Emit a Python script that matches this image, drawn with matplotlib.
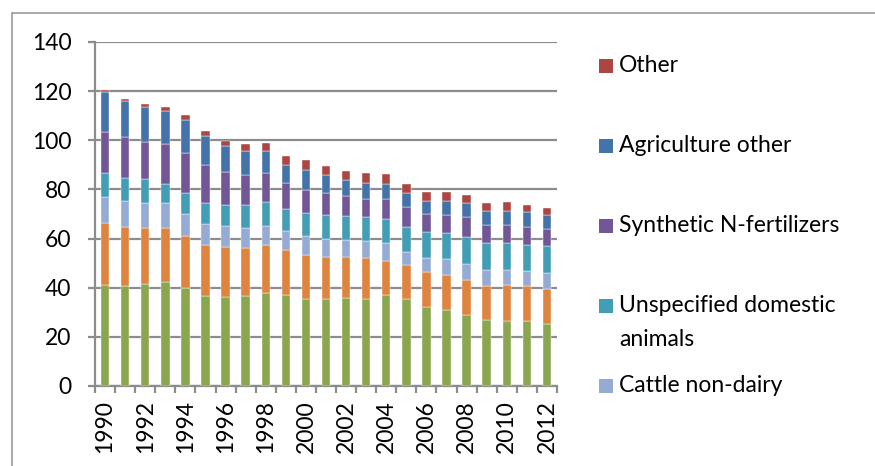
import matplotlib
matplotlib.use("Agg")
import matplotlib.pyplot as plt
from matplotlib.patches import Rectangle
import numpy as np

plt.rcParams['font.family'] = ['Lato', 'DejaVu Sans']

years = list(range(1990, 2013))
# cumulative tops
green_top = [41.0, 40.7, 41.6, 42.4, 39.7, 36.5, 36.1, 36.5, 38.0, 37.1, 35.3, 35.4, 36.0, 35.6, 36.9, 35.3, 32.0, 31.1, 28.8, 26.9, 26.6, 26.3, 25.1]
orange_top = [66.3, 64.8, 64.4, 64.5, 61.1, 57.4, 56.6, 56.1, 57.4, 55.4, 53.2, 52.4, 52.4, 52.0, 50.9, 49.2, 46.3, 45.1, 43.2, 40.9, 41.1, 40.5, 39.5]
cattle_top = [77.0, 75.4, 74.6, 74.6, 70.1, 66.0, 65.2, 64.4, 65.2, 63.1, 61.0, 60.0, 59.6, 59.2, 58.0, 54.6, 52.1, 51.6, 49.7, 47.3, 47.3, 46.8, 45.9]
unspec_top = [86.6, 84.5, 84.2, 82.3, 78.5, 74.4, 73.7, 73.5, 74.8, 72.0, 70.3, 69.7, 69.3, 68.6, 67.9, 64.9, 62.6, 62.3, 60.6, 58.1, 58.3, 57.4, 56.9]
synth_top = [103.3, 101.2, 99.5, 98.5, 94.8, 89.8, 87.0, 85.8, 86.5, 82.6, 79.8, 78.5, 77.4, 76.3, 76.0, 72.8, 69.9, 69.7, 68.7, 65.5, 65.5, 64.9, 64.0]
agri_top = [119.6, 115.8, 113.4, 112.0, 108.2, 101.8, 97.5, 95.7, 95.7, 89.9, 88.1, 85.8, 83.8, 82.8, 82.2, 78.5, 75.4, 75.2, 74.3, 71.2, 71.3, 70.7, 69.5]
other_top = [120.6, 116.9, 114.7, 113.7, 110.1, 103.9, 99.9, 98.6, 99.0, 93.7, 91.8, 89.5, 87.6, 86.6, 86.1, 82.3, 79.0, 78.8, 77.7, 74.6, 74.7, 73.7, 72.4]

tops = [green_top, orange_top, cattle_top, unspec_top, synth_top, agri_top, other_top]
names = ["", "", "Cattle non-dairy", "Unspecified domestic",
         "Synthetic N-fertilizers", "Agriculture other", "Other"]
colors = ["#8AA64E", "#DE843E", "#95ABD3", "#439DB4", "#725796", "#4473AA", "#AC4643"]

W, H = 875, 466
fig = plt.figure(figsize=(W / 100, H / 100), dpi=100)
fig.patches.append(Rectangle((12 / W, -0.1), 2, 1.1 - 13 / H, transform=fig.transFigure,
                             fill=False, edgecolor="#9A9A9A", lw=1.2))
ax = fig.add_axes([95 / W, 1 - 386 / H, 462 / W, 344 / H])

x = np.arange(len(years))
prev = np.zeros(len(years))
for t, c in zip(tops, colors):
    t = np.array(t)
    ax.bar(x, t - prev, bottom=prev, width=0.42, color=c, edgecolor="white", linewidth=0.3, zorder=3)
    prev = t

ax.set_xlim(-0.5, len(years) - 0.5)
ax.set_ylim(0, 140)
ax.set_yticks(range(0, 141, 20))
ax.yaxis.grid(True, color="#8C8C8C", lw=1.6, zorder=0)
ax.set_axisbelow(True)
for s in ["top", "right"]:
    ax.spines[s].set_visible(False)
for s in ["left", "bottom"]:
    ax.spines[s].set_color("#8C8C8C")
    ax.spines[s].set_linewidth(1.6)

ax.set_xticks(x[::2])
ax.set_xticklabels([str(y) for y in years[::2]], rotation=90, fontsize=16.5)
ax.set_xticks(np.arange(-0.5, len(years), 1), minor=True)
ax.tick_params(axis="x", which="major", length=0, pad=10)
ax.tick_params(axis="x", which="minor", length=5, width=1.6, color="#8C8C8C", direction="out")
ax.tick_params(axis="y", length=5, width=1.6, color="#8C8C8C", labelsize=16.5, pad=12)

# legend (manual layout to match the wrapped entry spacing)
legend_rows = [(6, 66), (5, 146), (4, 226), (3, 306), (2, 386)]
for idx, yc in legend_rows:
    fig.patches.append(Rectangle((599 / W, 1 - (yc + 7) / H), 14 / W, 14 / H,
                                 transform=fig.transFigure, facecolor=colors[idx],
                                 edgecolor="none"))
    fig.text(619 / W, 1 - yc / H, names[idx], fontsize=16.5, va="center", ha="left")
fig.text(619 / W, 1 - 340 / H, "animals", fontsize=16.5, va="center", ha="left")

fig.savefig("out.png", dpi=100)
